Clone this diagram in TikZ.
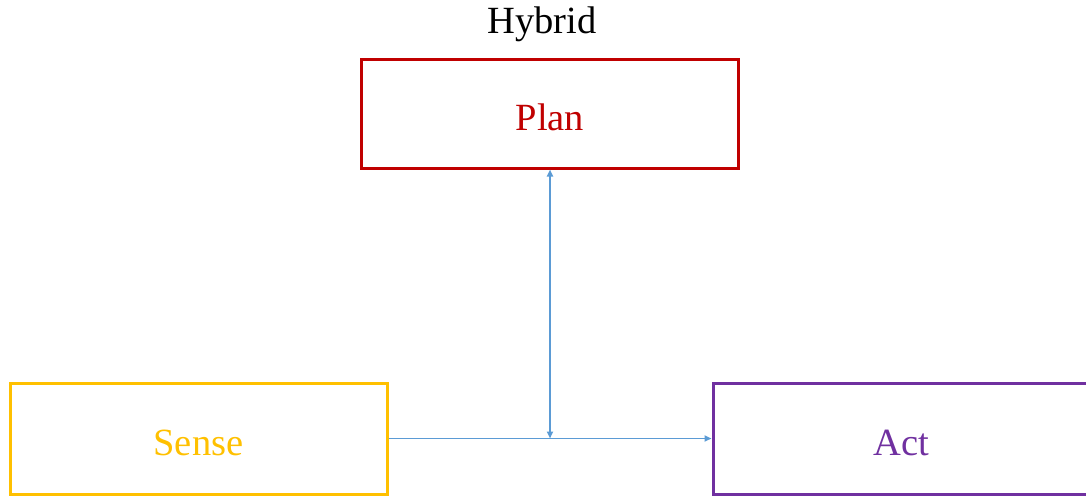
\documentclass[tikz,border=0pt]{standalone}
\usepackage{fontspec}
\setmainfont{Liberation Serif}
\usetikzlibrary{arrows.meta}

\definecolor{planred}{HTML}{C00000}
\definecolor{sensegold}{HTML}{FFC000}
\definecolor{actpurple}{HTML}{7030A0}
\definecolor{linkblue}{HTML}{5B9BD5}

\begin{document}
\begin{tikzpicture}[x=1pt, y=-1pt,
  main node/.style={draw, line width=3pt, rectangle, minimum width=377pt, minimum height=109pt, inner sep=0pt, text height=33pt, text depth=0pt, font=\fontsize{38.5}{46}\selectfont},
  link/.style={draw=linkblue, line width=1.8pt, -{Triangle[length=7pt,width=6pt]}}]
\useasboundingbox (0,0) rectangle (1086,496);
\node[font=\fontsize{38.5}{46}\selectfont] (title) at (542,24) {Hybrid};
\node[main node, draw=planred, text=planred]         (plan)  at (550,113.5) {Plan};
\node[main node, draw=sensegold, text=sensegold, minimum height=111pt] (sense) at (198.5,438.5) {Sense};
\node[main node, draw=actpurple, text=actpurple, minimum height=111pt] (act)   at (901.5,438.5) {Act};
\coordinate (junction) at (550,438.5);
\path[link] (sense.east) -- (act.west);
\path[link, {Triangle[length=7pt,width=6pt]}-{Triangle[length=7pt,width=6pt]}] (junction) -- (plan.south);
\end{tikzpicture}
\end{document}
